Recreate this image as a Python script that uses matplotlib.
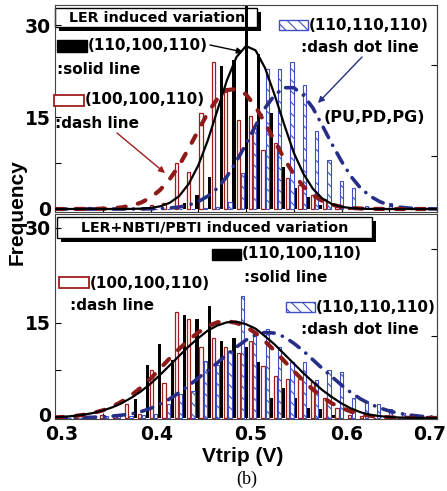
import numpy as np
import matplotlib
matplotlib.use('Agg')
import matplotlib.pyplot as plt
import matplotlib.transforms as mtransforms
from matplotlib.patches import Rectangle

plt.rcParams['hatch.linewidth'] = 0.8

W, H = 447, 491

# histogram bins (position of the red bar in every group), Vtrip in V
bin_centers = [0.3105, 0.3234, 0.3364, 0.3493, 0.3623, 0.3752, 0.3882, 0.4011,
               0.4141, 0.4270, 0.4400, 0.4529, 0.4659, 0.4788, 0.4918, 0.5047,
               0.5177, 0.5306, 0.5436, 0.5565, 0.5695, 0.5824, 0.5954, 0.6083,
               0.6213, 0.6342, 0.6472, 0.6601, 0.6731, 0.6860]

# LER only
top_black_bars = [0, 0, 0, 0, 0, 0, 0, 0, 0, 0, 1.0, 2.3, 5.3, 23.4, 24.3, 34, 25.3,
                  15.7, 6.9, 3.5, 2.0, 0.6, 0, 0, 0, 0, 0, 0, 0, 0]
top_red_bars = [0, 0.2, 0.3, 0.3, 0.2, 0, 0, 0.6, 0.9, 7.5, 6.0, 15.7, 24.0, 19.8,
                14.6, 15.2, 9.7, 10.8, 5.0, 3.9, 2.3, 1.7, 0.3, 0.3, 0.2, 0, 0, 0, 0, 0]
top_blue_bars = [0, 0, 0, 0.2, 0, 0, 0, 0, 0, 0, 0, 0.2, 0.4, 1.2, 5.8, 13.2, 22.9,
                 22.9, 24.0, 20.2, 12.7, 8.0, 4.6, 3.4, 0.5, 0, 0.9, 0, 0.4, 0]

# LER + NBTI/PBTI
bot_black_bars = [0, 0, 0, 0, 0, 0, 3.0, 8.3, 11.7, 9.2, 16.2, 15.7, 17.6, 12.2,
                  12.7, 11.2, 8.8, 3.2, 4.7, 3.2, 1.5, 1.4, 0.5, 0, 0, 0, 0, 0, 0, 0]
bot_red_bars = [0.3, 0, 0.3, 0.5, 0.4, 2.2, 0.6, 7.6, 5.6, 16.7, 15.7, 11.2, 12.6,
                11.2, 10.2, 12.2, 8.2, 6.7, 6.1, 6.1, 5.7, 3.2, 1.6, 0.5, 0.3, 0, 0, 0, 0, 0]
bot_blue_bars = [0, 0, 0.2, 0.3, 0.3, 0.3, 0.5, 0.7, 2.2, 3.8, 4.3, 9.0, 8.3, 10.6,
                 19.2, 13.3, 14.1, 11.2, 8.8, 8.8, 6.0, 7.5, 7.3, 3.2, 2.7, 2.2, 1.4,
                 0.8, 0.6, 0.3]

# fitted curves read every 0.01 V from 0.30 to 0.70
curve_v = np.round(np.arange(0.30, 0.7001, 0.01), 2)
top_black_fit = [0, 0, 0, 0, 0, 0, 0, 0, 0.02, 0.06, 0.17, 0.43, 1.0, 2.1, 4.1, 7.1,
                 11.2, 16.1, 21.0, 24.8, 26.6, 25.9, 23.0, 18.6, 13.8, 9.2, 5.8, 3.3,
                 1.7, 0.8, 0.35, 0.15, 0.06, 0.02, 0, 0, 0, 0, 0, 0, 0]
top_red_fit = [0, 0, 0.01, 0.02, 0.03, 0.05, 0.12, 0.27, 0.55, 1.04, 1.85, 3.1, 4.85,
               7.1, 9.9, 12.8, 15.7, 18.0, 19.4, 19.6, 18.7, 16.7, 14.0, 11.1, 8.2,
               5.7, 3.7, 2.3, 1.3, 0.71, 0.36, 0.17, 0.08, 0.03, 0.01, 0, 0, 0, 0, 0, 0]
top_blue_fit = [0, 0, 0, 0, 0, 0, 0, 0, 0, 0.01, 0.03, 0.07, 0.15, 0.32, 0.64, 1.2,
                2.1, 3.4, 5.3, 7.8, 10.6, 13.6, 16.5, 18.6, 19.8, 19.8, 18.6, 16.5,
                13.6, 10.6, 7.8, 5.3, 3.4, 2.1, 1.2, 0.64, 0.32, 0.15, 0.07, 0.03, 0.01]
bot_black_fit = [0.12, 0.2, 0.33, 0.52, 0.79, 1.17, 1.68, 2.35, 3.2, 4.2, 5.4, 6.8,
                 8.3, 9.8, 11.3, 12.6, 13.8, 14.6, 15.1, 15.2, 14.8, 14.1, 12.9, 11.6,
                 10.1, 8.6, 7.1, 5.7, 4.4, 3.3, 2.3, 1.5, 0.9, 0.5, 0.3, 0.15, 0.08,
                 0.04, 0.02, 0.01, 0]
bot_red_fit = [0.1, 0.17, 0.3, 0.5, 0.8, 1.2, 1.8, 2.6, 3.6, 4.8, 6.2, 7.8, 9.4, 10.9,
               12.3, 13.5, 14.5, 15.1, 15.3, 15.0, 14.4, 13.4, 12.1, 10.6, 9.0, 7.4,
               5.9, 4.5, 3.3, 2.3, 1.6, 1.0, 0.6, 0.35, 0.2, 0.1, 0.06, 0.03, 0.02,
               0.01, 0]
bot_blue_fit = [0.0, 0.02, 0.04, 0.07, 0.12, 0.2, 0.3, 0.45, 0.65, 1.0, 1.5, 2.2, 3.0,
                4.0, 5.1, 6.3, 7.5, 8.7, 10.0, 11.2, 12.3, 13.1, 13.5, 13.4, 12.8, 11.8,
                10.6, 9.2, 7.8, 6.5, 5.2, 4.0, 3.0, 2.2, 1.6, 1.1, 0.75, 0.5, 0.3, 0.2,
                0.12]

RED = '#9E1E1E'
RED_LINE = '#8E1A1A'
BLUE = '#3F4FC4'
BLUE_LINE = '#262E88'
BOLD = ['DejaVu Sans']


def F(x, y):
    # pixel position in the picture -> figure fraction
    return (x / W, 1 - y / H)


def nudge(lab, dx, dy):
    lab.set_transform(lab.get_transform() +
                      mtransforms.ScaledTranslation(dx / 100, dy / 100, fig.dpi_scale_trans))


fig = plt.figure(figsize=(W / 100, H / 100), dpi=100)
ax_top = fig.add_axes([55 / W, 1 - 212 / H, 382 / W, 207 / H])
ax_bot = fig.add_axes([55 / W, 1 - 419 / H, 382 / W, 205 / H])

bc = np.array(bin_centers)
bw = 0.0034


def draw_panel(ax, blk, red, blu, f_blk, f_red, f_blu):
    ax.bar(bc - 0.0043, blk, width=bw, color='black', zorder=2)
    ax.bar(bc, red, width=bw, facecolor='white', edgecolor=RED, lw=0.9, zorder=2)
    ax.bar(bc + 0.0045, blu, width=bw, facecolor='white', edgecolor=BLUE,
           hatch='\\\\\\', lw=0.8, zorder=2)
    ax.plot(curve_v, f_blu, color=BLUE_LINE, lw=2.6,
            linestyle=(0, (3.2, 2.4, 0.05, 2.4)), dash_capstyle='round', zorder=3)
    ax.plot(curve_v, f_red, color=RED_LINE, lw=3.0,
            linestyle=(0, (2.0, 3.0)), dash_capstyle='round', zorder=3)
    ax.plot(curve_v, f_blk, color='black', lw=1.6, zorder=4)
    ax.set_xlim(0.3, 0.7)
    ax.set_xticks(np.round(np.arange(0.3, 0.7001, 0.05), 2))
    ax.set_yticks([0, 7.5, 15, 30])
    ax.set_yticklabels(['0', '', '15', '30'])
    ax.tick_params(direction='in', length=4, width=0.8, labelsize=13.5, pad=3)
    for lab in ax.get_yticklabels() + ax.get_xticklabels():
        lab.set_fontweight('bold')
        lab.set_fontfamily(BOLD)
    for sp in ax.spines.values():
        sp.set_color('#444444')
        sp.set_linewidth(0.8)


draw_panel(ax_top, top_black_bars, top_red_bars, top_blue_bars,
           top_black_fit, top_red_fit, top_blue_fit)
draw_panel(ax_bot, bot_black_bars, bot_red_bars, bot_blue_bars,
           bot_black_fit, bot_red_fit, bot_blue_fit)

ax_top.set_ylim(-0.49, 33.3)
ax_bot.set_ylim(-0.16, 32.2)
ax_top.set_xticklabels([])
ax_bot.set_xticklabels(['0.3', '', '0.4', '', '0.5', '', '0.6', '', '0.7'])
ax_bot.tick_params(axis='x', pad=4)
shifts = [7, 0, 6, 0, 5, 0, 5, 0, -7]
for lab, dx in zip(ax_bot.get_xticklabels(), shifts):
    lab.set_fontsize(13.5)
    lab.set_fontweight('bold')
    lab.set_fontfamily(BOLD)
    nudge(lab, dx, 0)
# keep the lower "0" clear of the "0.3" below it
nudge(ax_bot.get_yticklabels()[0], 0, 3)

# extra ticks on the right edge
for ax, rt in ((ax_top, [8.6, 23.5]), (ax_bot, [12.9, 26.7])):
    sec = ax.secondary_yaxis('right')
    sec.set_yticks(rt)
    sec.tick_params(direction='in', length=4, width=0.8, labelright=False)
    sec.spines['right'].set_color('#444444')
    sec.spines['right'].set_linewidth(0.8)


def title_box(ax, x0, y0, x1, y1, text, tx, ty):
    a, b = F(x0 + 4, y1 + 4)
    c, d = F(x1 + 4, y0 + 4)
    ax.add_patch(Rectangle((a, b), c - a, d - b, transform=fig.transFigure,
                           facecolor='black', edgecolor='none', zorder=1.4,
                           clip_on=False))
    a, b = F(x0, y1)
    c, d = F(x1, y0)
    ax.add_patch(Rectangle((a, b), c - a, d - b, transform=fig.transFigure,
                           facecolor='white', edgecolor='black', lw=1.0,
                           zorder=1.5, clip_on=False))
    ax.text(*F(tx, ty), text, transform=fig.transFigure, ha='center', va='center',
            fontsize=10.3, fontweight='bold', family=BOLD, zorder=1.6)


title_box(ax_top, 55, 8, 257, 27, 'LER induced variation', 157, 17.5)
title_box(ax_bot, 57, 217, 372, 238, 'LER+NBTI/PBTI induced variation', 215, 227.5)


def swatch(x0, y0, x1, y1, kind):
    a, b = F(x0, y1)
    c, d = F(x1, y0)
    if kind == 'black':
        r = Rectangle((a, b), c - a, d - b, transform=fig.transFigure,
                      facecolor='black', edgecolor='black')
    elif kind == 'red':
        r = Rectangle((a, b), c - a, d - b, transform=fig.transFigure,
                      facecolor='white', edgecolor=RED, lw=1.3)
    else:
        r = Rectangle((a, b), c - a, d - b, transform=fig.transFigure,
                      facecolor='white', edgecolor=BLUE, lw=1.0, hatch='\\\\\\')
    fig.add_artist(r)


def label(x, y, s, size=11):
    fig.text(*F(x, y), s, ha='left', va='center', fontsize=size,
             fontweight='bold', family=BOLD)


def arrow(x0, y0, x1, y1, color):
    ax_top.annotate('', xy=F(x1, y1), xytext=F(x0, y0), xycoords='figure fraction',
                    textcoords='figure fraction', annotation_clip=False,
                    arrowprops=dict(arrowstyle='-|>', color=color, lw=1.0,
                                    mutation_scale=9, shrinkA=0, shrinkB=0))


# top panel notes
swatch(57, 40, 87, 52, 'black')
label(88, 46, '(110,100,110)')
label(57, 70, ':solid line')
swatch(54, 95, 84, 106, 'red')
label(85, 100, '(100,100,110)')
label(55, 124, ':dash line')
swatch(279, 20, 308, 30, 'blue')
label(309, 25, '(110,110,110)')
label(301, 48, ':dash dot line')
label(324, 118, '(PU,PD,PG)', 11.5)
arrow(210, 45, 243, 52, 'black')
arrow(117, 133, 165, 173, RED)
arrow(362, 57, 318, 103, BLUE_LINE)

# bottom panel notes
swatch(212, 249, 241, 260, 'black')
label(242, 254, '(110,100,110)')
label(244, 277, ':solid line')
swatch(59, 277, 89, 288, 'red')
label(90, 283, '(100,100,110)')
label(70, 306, ':dash line')
swatch(286, 302, 315, 312, 'blue')
label(316, 307, '(110,110,110)')
label(301, 330, ':dash dot line')
arrow(262, 287, 245, 325, 'black')
arrow(123, 312, 173, 353, RED)
arrow(360, 341, 327, 364, BLUE_LINE)

fig.text(*F(17, 212), 'Frequency', rotation=90, ha='center', va='center',
         fontsize=15, fontweight='bold', family=['Liberation Sans', 'DejaVu Sans'])
fig.text(*F(243, 457), 'Vtrip (V)', ha='center', va='center',
         fontsize=15, fontweight='bold', family=['Liberation Sans', 'DejaVu Sans'])
fig.text(*F(247, 479), '(b)', ha='center', va='center', fontsize=13,
         family=['Liberation Serif', 'DejaVu Serif'])

fig.savefig('out.png', dpi=100)
